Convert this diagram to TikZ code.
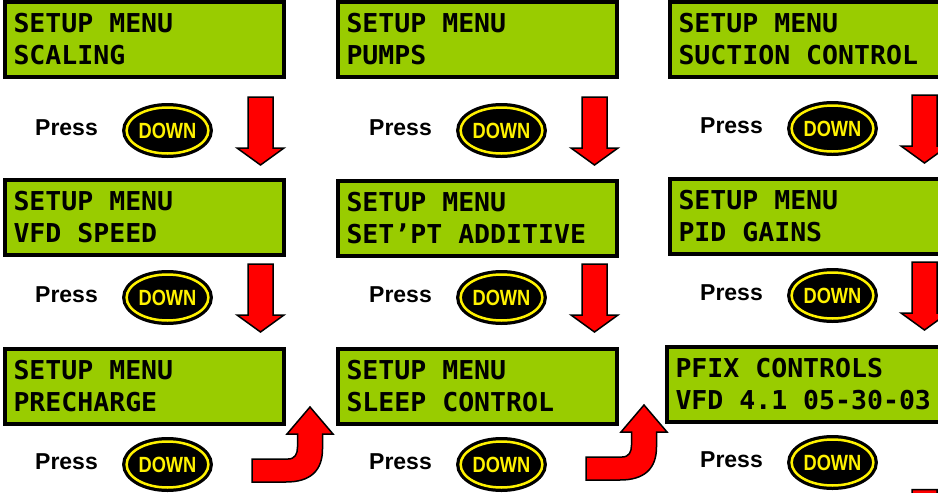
\documentclass[tikz,border=0pt]{standalone}
\usepackage{fontspec}
\setmainfont{Liberation Sans}
\newfontfamily\lcdfont{DejaVu Sans Mono}[FakeStretch=1.02]
\newfontfamily\keyfont{Liberation Sans}[FakeStretch=0.83]
\usetikzlibrary{calc,shapes.geometric}
\definecolor{lcdgreen}{RGB}{153,204,0}

\tikzset{
  lcd/.style={draw, line width=4pt, fill=lcdgreen, anchor=north west, outer sep=0pt,
    inner xsep=8.5pt, inner ysep=0pt, text width=261.5pt, minimum height=75pt,
    align=flush left, font=\lcdfont\bfseries\fontsize{26}{32}\selectfont,
    % every cell of the display is one character wide, blanks too
    execute at begin node={\spaceskip=\fontcharwd\font`X\relax}},
  presslabel/.style={inner sep=0pt, font=\bfseries\fontsize{23}{23}\selectfont},
  downkey/.style={ellipse, fill=black, draw=yellow, line width=2.5pt,
    preaction={draw=black, line width=9pt}, minimum width=81pt, minimum height=46pt,
    inner sep=0pt, text=yellow, font=\keyfont\bfseries\fontsize{22}{22}\selectfont},
  arrowbody/.style={fill=red, draw=black, line width=1.5pt, line join=miter},
  dnarrow/.pic={
    \draw[arrowbody] (-12.5,0) -- (12.5,0) -- (12.5,51) -- (23.5,51) -- (0,68)
      -- (-23.5,51) -- (-12.5,51) -- cycle;
  },
  bentarrow/.pic={
    \draw[arrowbody] (0,0) -- (23,27) -- (12.5,27) -- (12.5,42)
      .. controls (12.5,64) and (0,75) .. (-24,75) -- (-58,75) -- (-58,52) -- (-22,52)
      .. controls (-15,52) and (-12.5,47) .. (-12.5,40) -- (-12.5,27) -- (-23,27) -- cycle;
  }
}

\begin{document}
\begin{tikzpicture}[x=1pt,y=-1pt]
\useasboundingbox (0,0) rectangle (938,493);
\clip (0,0) rectangle (938,493);
  \node[lcd] (M1) at (5,2) {SETUP MENU\\SCALING};
  \node[lcd] (M2) at ($(M1.north west)+(0,178)$) {SETUP MENU\\VFD SPEED};
  \node[lcd] (M3) at ($(M2.north west)+(0,169)$) {SETUP MENU\\PRECHARGE};
  \node[lcd] (M4) at ($(M1.north west)+(333,0)$) {SETUP MENU\\PUMPS};
  \node[lcd] (M5) at ($(M4.north west)+(0,179)$) {SETUP MENU\\SET’PT ADDITIVE};
  \node[lcd] (M6) at ($(M5.north west)+(0,168)$) {SETUP MENU\\SLEEP CONTROL};
  \node[lcd] (M7) at ($(M4.north west)+(332,0)$) {SETUP MENU\\SUCTION CONTROL};
  \node[lcd] (M8) at ($(M7.north west)+(0,177)$) {SETUP MENU\\PID GAINS};
  \node[lcd] (M9) at ($(M8.north west)+(-3,168)$) {PFIX CONTROLS\\VFD 4.1 05-30-03};
  \node[presslabel] (P1) at (66.5,128) {Press};
  \node[presslabel] (P2) at ($(P1)+(0,167)$) {Press};
  \node[presslabel] (P3) at ($(P2)+(0,167)$) {Press};
  \node[presslabel] (P4) at ($(P1)+(334,0)$) {Press};
  \node[presslabel] (P5) at ($(P4)+(0,167)$) {Press};
  \node[presslabel] (P6) at ($(P5)+(0,167)$) {Press};
  \node[presslabel] (P7) at ($(P4)+(331,-2)$) {Press};
  \node[presslabel] (P8) at ($(P7)+(0,167)$) {Press};
  \node[presslabel] (P9) at ($(P8)+(0,167)$) {Press};
  \node[downkey] (K1) at ($(P1)+(101,2.5)$) {DOWN};
  \node[downkey] (K2) at ($(P2)+(101,2.5)$) {DOWN};
  \node[downkey] (K3) at ($(P3)+(101,2.5)$) {DOWN};
  \node[downkey] (K4) at ($(P4)+(101,2.5)$) {DOWN};
  \node[downkey] (K5) at ($(P5)+(101,2.5)$) {DOWN};
  \node[downkey] (K6) at ($(P6)+(101,2.5)$) {DOWN};
  \node[downkey] (K7) at ($(P7)+(101,2.5)$) {DOWN};
  \node[downkey] (K8) at ($(P8)+(101,2.5)$) {DOWN};
  \node[downkey] (K9) at ($(P9)+(101,2.5)$) {DOWN};
  \pic at ($(K1)+(93,-33.5)$) {dnarrow};
  \pic at ($(K2)+(93,-33.5)$) {dnarrow};
  \pic at ($(K4)+(93,-33.5)$) {dnarrow};
  \pic at ($(K5)+(93,-33.5)$) {dnarrow};
  \pic at ($(K7)+(92,-33.5)$) {dnarrow};
  \pic at ($(K8)+(92,-33.5)$) {dnarrow};
  \pic at ($(K9)+(92,27)$) {dnarrow};
  \pic at ($(K3)+(142.5,-57.5)$) {bentarrow};
  \pic at ($(K6)+(142.5,-59.5)$) {bentarrow};
\end{tikzpicture}
\end{document}
